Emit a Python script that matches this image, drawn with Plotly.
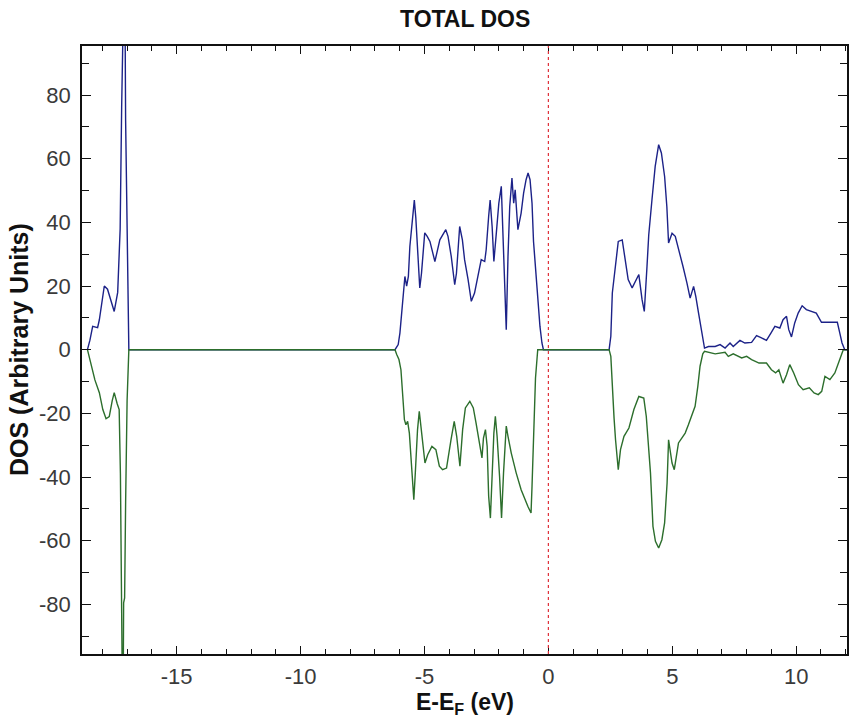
import plotly.graph_objects as go

# Spin-up (positive) total DOS
up_energy = [-18.6, -18.5, -18.39, -18.19, -18.12, -17.92, -17.79, -17.52, -17.38, -17.28, -17.22,
             -17.17, -17.10, -17.06, -16.98, -16.93,
             -6.19, -6.06, -5.99, -5.86, -5.79, -5.72, -5.65, -5.59, -5.48, -5.41, -5.35, -5.28,
             -5.19, -5.12, -4.99, -4.89, -4.78, -4.58, -4.38, -4.14, -4.05, -3.92, -3.78, -3.71,
             -3.58, -3.47, -3.38, -3.24, -3.11, -2.98, -2.84, -2.71, -2.57, -2.51, -2.41, -2.35,
             -2.27, -2.20, -2.10, -2.00, -1.90, -1.83, -1.76, -1.70, -1.63, -1.56, -1.47, -1.40,
             -1.34, -1.23, -1.10, -1.00, -0.90, -0.82, -0.74, -0.66, -0.60, -0.50, -0.42, -0.34,
             -0.26, -0.20,
             2.45, 2.52, 2.58, 2.69, 2.82, 2.98, 3.09, 3.22, 3.38, 3.51, 3.65, 3.78, 3.87, 3.98,
             4.05, 4.18, 4.31, 4.45, 4.56, 4.69, 4.78, 4.85, 4.99, 5.12, 5.25, 5.43, 5.59, 5.72,
             5.86, 5.95, 6.06, 6.19, 6.30, 6.46, 6.73, 6.93, 7.13, 7.33, 7.46, 7.73, 7.93, 8.20,
             8.40, 8.60, 8.80, 8.98, 9.14, 9.34, 9.47, 9.61, 9.70, 9.81, 9.94, 10.08, 10.24, 10.41,
             10.59, 10.81, 11.02, 11.28, 11.66, 11.76, 11.85, 11.96, 12.1]
up_dos = [0, 3, 7.3, 6.9, 9.4, 20, 19, 12, 18, 38, 76,
          130, 130, 72, 23.5, 0,
          0, 1.6, 5.3, 15.7, 23, 20, 23, 32.4, 42.4, 47, 41.5, 32.4,
          19.4, 24, 36.7, 35.6, 34, 27.7, 34.5, 37.7, 35.6, 29.3, 20.4, 24,
          38.7, 34.5, 28.2, 22, 15.2, 17.8, 23, 28.3, 27.7, 31.4, 41.9, 47,
          38.7, 27.7, 36.7, 46, 51.3, 33.5, 14.7, 6.3, 29.3, 45, 53.9, 46,
          50.2, 37.7, 42.9, 49.2, 53.4, 55.5, 53.4, 46, 34, 22.5, 14.7, 7.3,
          2.1, 0,
          0, 4.2, 17.8, 25.1, 34, 34.5, 29.3, 22, 19.4, 21.5, 23.6, 15.7, 12, 26.2,
          36.1, 47.1, 57.6, 64.4, 61.8, 54.4, 45, 33.5, 36.6, 35.6, 32, 26.2, 21, 16.2,
          19.9, 16.7, 11.5, 5.2, 0.5, 1.0, 1.0, 1.6, 0.5, 2.1, 1.0, 2.9, 2.1, 2.3,
          4.4, 3.7, 2.9, 5.2, 7.3, 6.8, 9.4, 10.5, 6.3, 4.0, 8.4, 11.5, 13.8, 12.6,
          12, 11.5, 8.6, 8.6, 8.6, 5.2, 2.1, 0, 0]

# Spin-down (negative) total DOS
dn_energy = [-18.6, -18.45, -18.3, -18.12, -17.98, -17.85, -17.72, -17.6, -17.52, -17.4, -17.32,
             -17.27, -17.2, -17.17, -17.14, -17.1, -17.06, -17.0, -16.93,
             -6.19, -6.12, -6.03, -5.95, -5.88, -5.81, -5.75, -5.68, -5.61, -5.54, -5.48, -5.43,
             -5.37, -5.28, -5.21, -5.15, -5.08, -4.98, -4.87, -4.70, -4.54, -4.40, -4.27, -4.11,
             -3.93, -3.80, -3.70, -3.57, -3.46, -3.35, -3.17, -3.03, -2.92, -2.79, -2.68, -2.62,
             -2.54, -2.47, -2.41, -2.34, -2.27, -2.20, -2.14, -2.07, -1.97, -1.89, -1.81, -1.70,
             -1.63, -1.50, -1.30, -1.10, -0.83, -0.70, -0.66, -0.60, -0.52, -0.43,
             2.45, 2.52, 2.58, 2.65, 2.71, 2.82, 2.91, 3.05, 3.25, 3.45, 3.65, 3.85, 3.95, 4.03,
             4.12, 4.22, 4.32, 4.45, 4.58, 4.69, 4.79, 4.85, 4.92, 4.99, 5.08, 5.15, 5.25, 5.39,
             5.52, 5.65, 5.79, 5.92, 6.03, 6.12, 6.23, 6.30, 6.73, 7.13, 7.26, 7.46, 7.80, 8.00,
             8.20, 8.50, 8.80, 9.00, 9.17, 9.30, 9.47, 9.61, 9.74, 9.90, 10.09, 10.28, 10.53,
             10.72, 10.89, 11.03, 11.16, 11.36, 11.56, 11.70, 11.90, 12.1]
dn_dos = [0, -5, -9.5, -13.5, -18.8, -21.7, -21, -16, -13.5, -17, -18.8,
          -39, -76, -125, -79.5, -78, -48, -16, 0,
          0, -1.5, -3.1, -6.3, -14.7, -22, -23.6, -22.5, -26.2, -35, -41.9, -47.1,
          -38.7, -25.1, -19.4, -24, -29.3, -35.6, -33, -30.4, -31.4, -36.6, -37.7, -37.2,
          -28.3, -22.5, -27.2, -36.6, -25.1, -18.3, -16.2, -18.3, -23, -28.3, -34, -27.8,
          -25.1, -30.4, -46, -52.9, -37.7, -26.2, -20.9, -27.2, -39.8, -52.9, -38.7, -24,
          -27.2, -32.4, -38.7, -44, -49.2, -51.3, -42.9, -26.2, -8.9, 0,
          0, -2.1, -13.6, -21.5, -28.3, -37.7, -31.4, -27.2, -24.6, -18.8, -14.7, -15.2, -20.9, -30.4,
          -38.7, -55.5, -60.2, -62.3, -59.7, -54.4, -41.9, -28.3, -32.5, -35.6, -37.7, -34.5, -29.3, -27.7,
          -26.2, -23.6, -20.9, -17.8, -11.5, -5.2, -1.3, -0.5, -1.3, -0.8, -2.1, -1.3, -2.6, -2.1,
          -3.1, -4.2, -4.2, -6.3, -7.3, -6.3, -10.5, -7.9, -4.7, -7.3, -11, -12.6, -12,
          -13.6, -14.1, -13.1, -8.4, -9.4, -7.3, -4.2, 0, 0]

x_tick_vals = [-15, -10, -5, 0, 5, 10]
x_tick_text = ["-15", "-10", "-5", "0", "5", "10"]
y_tick_vals = [-80, -60, -40, -20, 0, 20, 40, 60, 80]
y_tick_text = ["-80", "-60", "-40", "-20", "0", "20", "40", "60", "80"]

font_family = "Liberation Sans, Arial, sans-serif"

fig = go.Figure()
fig.add_trace(go.Scatter(x=up_energy, y=up_dos, mode="lines",
                         line=dict(color="#1c2288", width=1.4), showlegend=False))
fig.add_trace(go.Scatter(x=dn_energy, y=dn_dos, mode="lines",
                         line=dict(color="#2c6e2c", width=1.4), showlegend=False))

fig.add_shape(type="line", xref="x", yref="paper", x0=0, x1=0, y0=0, y1=1,
              line=dict(color="#e0303a", width=1.2, dash="dot"))

fig.update_layout(
    width=849, height=723,
    margin=dict(l=82, r=0, t=46, b=69),
    paper_bgcolor="white", plot_bgcolor="white",
    font=dict(family=font_family, size=22, color="#3a3a3a"),
    showlegend=False,
    annotations=[
        dict(text="<b>TOTAL DOS</b>", xref="paper", yref="paper", x=0.5, y=1,
             yshift=27, showarrow=False, xanchor="center", yanchor="middle",
             font=dict(size=23, color="#111111", family=font_family)),
        dict(text="<b>E-E<sub>F</sub> (eV)</b>", xref="paper", yref="paper", x=0.5, y=0,
             yshift=-49, showarrow=False, xanchor="center", yanchor="middle",
             font=dict(size=23, color="#111111", family=font_family)),
        dict(text="<b>DOS (Arbitrary Units)</b>", xref="paper", yref="paper", x=0, y=0.5,
             xshift=-63, showarrow=False, textangle=-90, xanchor="center", yanchor="middle",
             font=dict(size=25, color="#111111", family=font_family)),
    ],
)

fig.update_xaxes(range=[-18.82, 12.05], tickvals=x_tick_vals, ticktext=x_tick_text,
                 ticks="inside", ticklen=8,
                 tickwidth=1.2, tickcolor="#111111", showline=True, linecolor="#111111",
                 linewidth=1.5, mirror="allticks", showgrid=False, zeroline=False,
                 ticklabelstandoff=2,
                 minor=dict(dtick=1, tick0=0, ticks="inside", ticklen=5, tickcolor="#111111",
                            tickwidth=1, showgrid=False))
fig.update_yaxes(range=[-95.6, 95.4], tickvals=y_tick_vals, ticktext=y_tick_text,
                 ticks="inside", ticklen=9,
                 tickwidth=1.2, tickcolor="#111111", showline=True, linecolor="#111111",
                 linewidth=1.5, mirror="allticks", showgrid=False, zeroline=False,
                 ticklabelstandoff=5,
                 minor=dict(dtick=10, tick0=0, ticks="inside", ticklen=7, tickcolor="#111111",
                            tickwidth=1, showgrid=False))

fig.write_html(
    "out.html",
    config={"displayModeBar": False},
    post_script="document.body.style.margin='0';document.documentElement.style.overflow='hidden';document.body.style.overflow='hidden';",
)
